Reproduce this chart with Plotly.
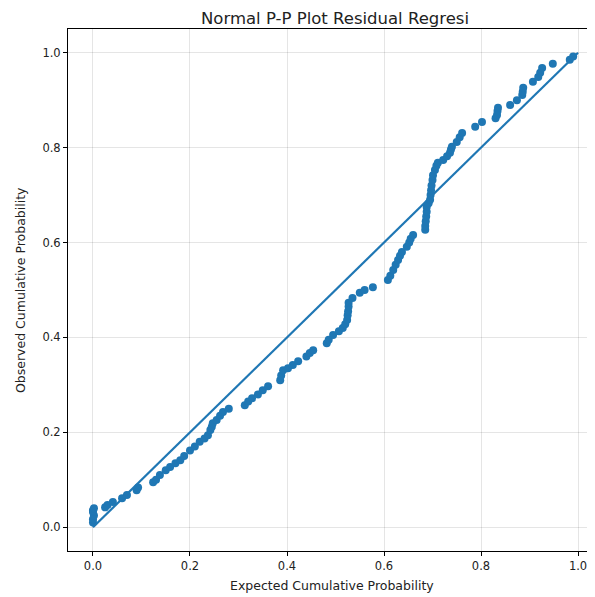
import plotly.graph_objects as go

# Expected cumulative probability (x) and observed cumulative probability (y)
expected = [0.000, 0.000, 0.002, 0.000, 0.000, 0.002, 0.025, 0.030, 0.041, 0.060,
            0.070, 0.090, 0.093, 0.124, 0.130, 0.138, 0.150, 0.159, 0.170, 0.180,
            0.188, 0.200, 0.210, 0.220, 0.230, 0.237, 0.242, 0.245, 0.247, 0.255,
            0.262, 0.268, 0.280, 0.313, 0.320, 0.328, 0.340, 0.350, 0.361, 0.386,
            0.388, 0.392, 0.402, 0.412, 0.423, 0.440, 0.447, 0.454, 0.482, 0.486,
            0.495, 0.507, 0.515, 0.520, 0.524, 0.525, 0.526, 0.527, 0.527, 0.535,
            0.550, 0.560, 0.577, 0.608, 0.613, 0.619, 0.624, 0.629, 0.633, 0.637,
            0.647, 0.652, 0.655, 0.660, 0.685, 0.685, 0.686, 0.687, 0.688, 0.688,
            0.692, 0.695, 0.696, 0.697, 0.698, 0.700, 0.701, 0.705, 0.708, 0.711,
            0.722, 0.730, 0.736, 0.738, 0.740, 0.750, 0.756, 0.761, 0.788, 0.802,
            0.830, 0.833, 0.834, 0.835, 0.860, 0.874, 0.885, 0.886, 0.887, 0.907,
            0.918, 0.922, 0.926, 0.948, 0.983, 0.990]
observed = [0.010, 0.017, 0.025, 0.032, 0.036, 0.040, 0.042, 0.047, 0.053, 0.061,
            0.068, 0.078, 0.084, 0.095, 0.100, 0.110, 0.120, 0.127, 0.135, 0.141,
            0.150, 0.162, 0.170, 0.180, 0.187, 0.194, 0.205, 0.212, 0.219, 0.226,
            0.235, 0.243, 0.250, 0.257, 0.265, 0.272, 0.280, 0.289, 0.297, 0.310,
            0.320, 0.331, 0.335, 0.342, 0.350, 0.360, 0.367, 0.373, 0.388, 0.395,
            0.405, 0.413, 0.420, 0.428, 0.437, 0.447, 0.455, 0.465, 0.473, 0.483,
            0.494, 0.500, 0.506, 0.521, 0.530, 0.542, 0.553, 0.563, 0.572, 0.580,
            0.591, 0.600, 0.608, 0.616, 0.627, 0.635, 0.645, 0.655, 0.665, 0.675,
            0.683, 0.690, 0.700, 0.710, 0.720, 0.732, 0.742, 0.753, 0.762, 0.768,
            0.774, 0.782, 0.789, 0.796, 0.802, 0.812, 0.822, 0.831, 0.844, 0.854,
            0.862, 0.869, 0.877, 0.884, 0.890, 0.900, 0.911, 0.918, 0.926, 0.939,
            0.949, 0.958, 0.968, 0.977, 0.985, 0.992]
ref_line = [0.0, 1.0]
tick_vals = [0.0, 0.2, 0.4, 0.6, 0.8, 1.0]
tick_text = ["0.0", "0.2", "0.4", "0.6", "0.8", "1.0"]

blue = "#1f77b4"
font = "DejaVu Sans"
txt = "#222"

fig = go.Figure()
fig.add_trace(go.Scatter(x=expected, y=observed, mode="markers",
                         marker=dict(color=blue, size=8, line=dict(width=0)),
                         showlegend=False))
fig.add_trace(go.Scatter(x=ref_line, y=ref_line, mode="lines",
                         line=dict(color=blue, width=2.2), showlegend=False))

axis_common = dict(
    showgrid=True, gridcolor="rgba(0,0,0,0.1)", gridwidth=1,
    zeroline=False, showline=True, linecolor="black", linewidth=1,
    ticks="outside", ticklen=4, tickcolor="black", tickwidth=1,
    tickvals=tick_vals, ticktext=tick_text, automargin=False,
    tickfont=dict(family=font, size=11.5, color=txt),
)

fig.update_layout(
    width=587, height=589,
    margin=dict(l=60, r=0, t=21, b=46),
    paper_bgcolor="white", plot_bgcolor="white",
    xaxis=dict(range=[-0.0515, 1.035], mirror=True, **axis_common),
    yaxis=dict(range=[-0.05, 1.05], **axis_common),
    annotations=[
        dict(text="Normal P-P Plot Residual Regresi", xref="paper", yref="paper",
             x=0.507, y=1, yshift=21, xanchor="center", yanchor="top",
             borderpad=0, showarrow=False,
             font=dict(family=font, size=16.5, color=txt)),
        dict(text="Expected Cumulative Probability", xref="paper", yref="paper",
             x=0.5, y=0, yshift=-34, xanchor="center", yanchor="middle",
             showarrow=False, font=dict(family=font, size=12.5, color=txt)),
        dict(text="Observed Cumulative Probability", xref="paper", yref="paper",
             x=0, y=0.5, xshift=-48, xanchor="center", yanchor="middle",
             textangle=-90, showarrow=False,
             font=dict(family=font, size=12.5, color=txt)),
    ],
)

fig.write_html("out.html")
